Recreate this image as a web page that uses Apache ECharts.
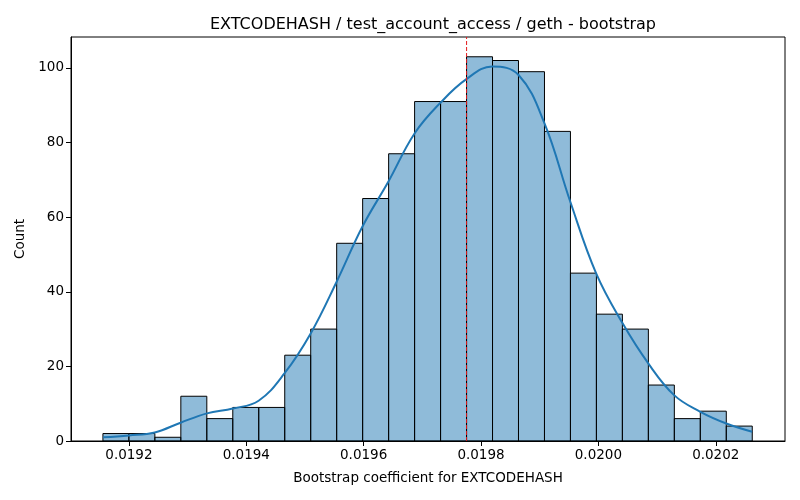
<!DOCTYPE html>
<html>
<head>
<meta charset="utf-8">
<script src="https://cdn.jsdelivr.net/npm/echarts@6/dist/echarts.min.js"></script>
<style>
  html, body { margin: 0; padding: 0; background: #fff; }
  #chart { width: 800px; height: 500px; }
</style>
</head>
<body>
<div id="chart"></div>
<script>
// histogram bins
var binStart = 0.0191557;
var binWidth = 0.00004426;
var counts = [2, 2, 1, 12, 6, 9, 9, 23, 30, 53, 65, 77, 91, 91, 103, 102, 99, 83, 45, 34, 30, 15, 6, 8, 4];

// kde curve
var kdeX = [0.019156, 0.019200, 0.019244, 0.019288, 0.019333, 0.019377, 0.019421, 0.019465,
            0.019510, 0.019554, 0.019598, 0.019642, 0.019687, 0.019731, 0.019775, 0.019819,
            0.019864, 0.019908, 0.019952, 0.019996, 0.020041, 0.020085, 0.020129, 0.020173,
            0.020218, 0.020262];
var kdeY = [1.0, 1.5, 2.3, 4.9, 7.4, 8.7, 10.8, 18.1, 28.9, 42.7, 57.5, 69.5, 82.5, 90.7,
            97.0, 100.4, 98.1, 85.2, 64.2, 45.0, 31.6, 20.8, 12.3, 7.9, 4.7, 2.5];

var meanValue = 0.0197754;

var xTicks = [0.0192, 0.0194, 0.0196, 0.0198, 0.0200, 0.0202];
var yTicks = [0, 20, 40, 60, 80, 100];
var yMax = 108.3;

var barData = [];
for (var i = 0; i < counts.length; i++) {
    barData.push([binStart + i * binWidth, binStart + (i + 1) * binWidth, counts[i]]);
}
var kdeData = [];
for (var j = 0; j < kdeX.length; j++) {
    kdeData.push([kdeX[j], kdeY[j]]);
}

var font = 'DejaVu Sans';
var chart = echarts.init(document.getElementById('chart'));
var option = {
    animation: false,
    backgroundColor: '#fff',
    title: {
        text: 'EXTCODEHASH / test_account_access / geth - bootstrap',
        left: 428,
        textAlign: 'center',
        top: 12,
        textStyle: { fontFamily: font, fontSize: 16, fontWeight: 'normal', color: '#000' }
    },
    grid: {
        left: 71, right: 15, top: 37, bottom: 59,
        show: true, borderColor: '#000', borderWidth: 1
    },
    xAxis: {
        type: 'value',
        min: 0.0191013,
        max: 0.020318,
        name: 'Bootstrap coefficient for EXTCODEHASH',
        nameLocation: 'middle',
        nameGap: 30,
        nameTextStyle: { fontFamily: font, fontSize: 13.5, color: '#000' },
        axisLine: { show: true, lineStyle: { color: '#000', width: 1 } },
        axisTick: { show: true, length: 5, lineStyle: { color: '#000' }, customValues: xTicks },
        axisLabel: {
            fontFamily: font, fontSize: 13.5, color: '#000', margin: 7,
            customValues: xTicks,
            formatter: function (v) { return v.toFixed(4); }
        },
        splitLine: { show: false }
    },
    yAxis: {
        type: 'value',
        min: 0,
        max: yMax,
        name: 'Count',
        nameLocation: 'middle',
        nameGap: 44,
        nameTextStyle: { fontFamily: font, fontSize: 13.5, color: '#000' },
        axisLine: { show: true, lineStyle: { color: '#000', width: 1 } },
        axisTick: { show: true, length: 5, lineStyle: { color: '#000' }, customValues: yTicks },
        axisLabel: { fontFamily: font, fontSize: 13.5, color: '#000', margin: 7, customValues: yTicks },
        splitLine: { show: false }
    },
    series: [{
        type: 'custom',
        data: barData,
        encode: { x: [0, 1], y: 2 },
        renderItem: function (params, api) {
            var p0 = api.coord([api.value(0), api.value(2)]);
            var p1 = api.coord([api.value(1), 0]);
            return {
                type: 'rect',
                shape: { x: p0[0], y: p0[1], width: p1[0] - p0[0], height: p1[1] - p0[1] },
                style: { fill: 'rgba(31,119,180,0.5)', stroke: '#000', lineWidth: 1 }
            };
        },
        z: 2
    }, {
        type: 'line',
        data: kdeData,
        smooth: 0.4,
        showSymbol: false,
        lineStyle: { color: '#1f77b4', width: 2 },
        z: 3
    }, {
        type: 'line',
        data: [[meanValue, 0], [meanValue, yMax]],
        showSymbol: false,
        lineStyle: { color: '#e41a1c', type: [4, 2], width: 1 },
        z: 4
    }]
};
chart.setOption(option);
window.addEventListener('resize', function () {
    chart.resize();
});
</script>
</body>
</html>
